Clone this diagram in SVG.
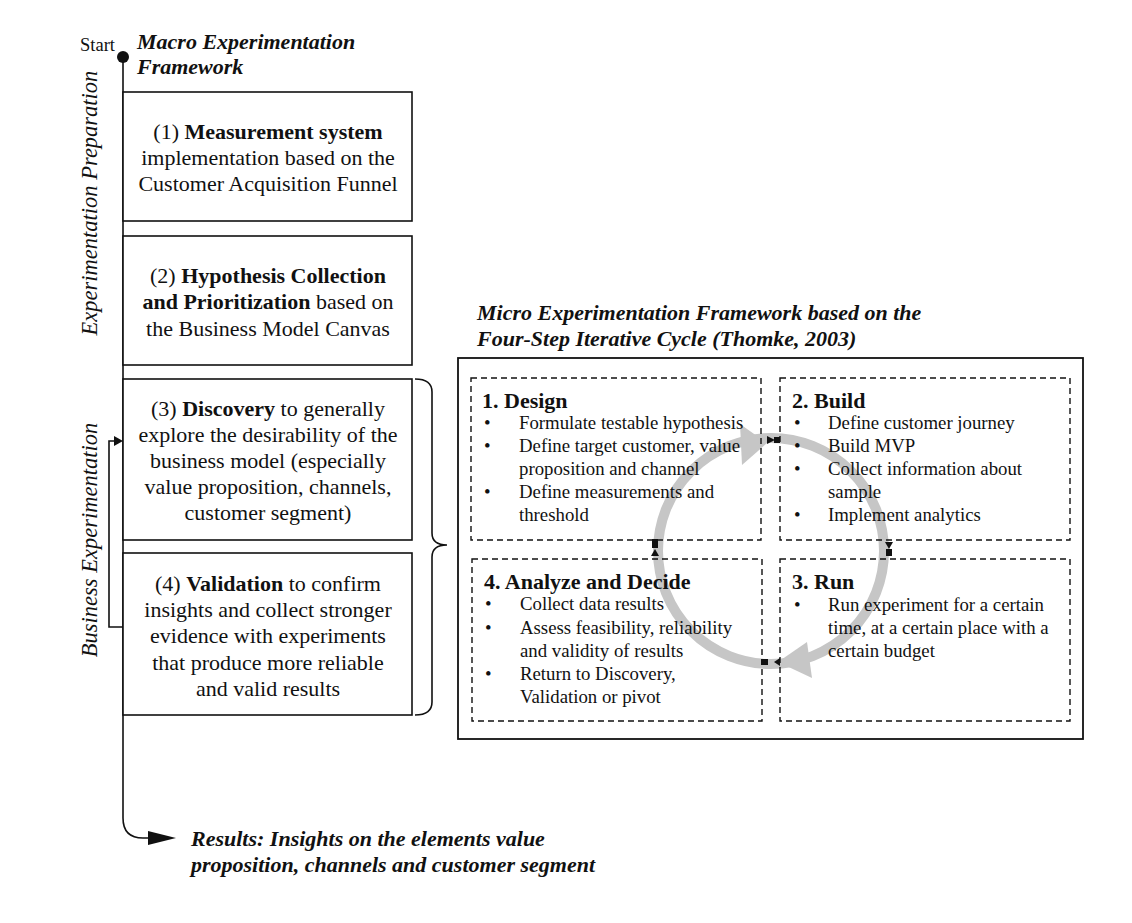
<svg xmlns="http://www.w3.org/2000/svg" width="1132" height="923" viewBox="0 0 1132 923">
<style>
text{font-family:"Liberation Serif","Times New Roman",serif;fill:#111}
.bx{fill:#fff;stroke:#111;stroke-width:1.6}
.dash{fill:none;stroke:#111;stroke-width:1.4;stroke-dasharray:6,4}
.ln{fill:none;stroke:#111;stroke-width:1.6}
.t{font-size:22px;text-anchor:middle}
.m{font-size:18.8px}
.h{font-size:22px;font-weight:bold}
.bi{font-size:22px;font-weight:bold;font-style:italic}
.vi{font-size:22.5px;font-style:italic;text-anchor:middle}
.blk{fill:#111}
.gray{fill:#c6c6c6}
</style>
<rect width="1132" height="923" fill="#fff"/>
<g id="connectors">
<path class="ln" d="M123,57 V818 Q123,838 143,838 H150"/>
<polygon class="blk" points="148,831 176,838 148,845"/>
<path class="ln" d="M123,627 H109 V441 H117"/>
<polygon class="blk" points="114,436 123,441 114,446"/>
<path class="ln" d="M415,379 Q432,379 432,392 V533 Q432,545 447,545 Q432,545 432,557 V702 Q432,715 415,715"/>
</g>
<g id="start">
<circle cx="123" cy="57" r="6" class="blk"/>
<text x="80" y="51" style="font-size:18.5px">Start</text>
</g>
<g id="macro-title">
<text class="bi" x="137" y="49">Macro Experimentation</text>
<text class="bi" x="137" y="74">Framework</text>
</g>
<g id="label-prep">
<text class="vi" transform="translate(97,203) rotate(-90)">Experimentation Preparation</text>
</g>
<g id="label-business">
<text class="vi" transform="translate(97,540) rotate(-90)">Business Experimentation</text>
</g>
<g id="box1">
<rect class="bx" x="123" y="92" width="289" height="129"/>
<text class="t" x="268" y="139">(1) <tspan font-weight="bold">Measurement system</tspan></text>
<text class="t" x="268" y="165">implementation based on the</text>
<text class="t" x="268" y="191">Customer Acquisition Funnel</text>
</g>
<g id="box2">
<rect class="bx" x="123" y="236" width="289" height="129"/>
<text class="t" x="268" y="283">(2) <tspan font-weight="bold">Hypothesis Collection</tspan></text>
<text class="t" x="268" y="309"><tspan font-weight="bold">and Prioritization</tspan> based on</text>
<text class="t" x="268" y="336">the Business Model Canvas</text>
</g>
<g id="box3">
<rect class="bx" x="123" y="379" width="289" height="161"/>
<text class="t" x="268" y="416">(3) <tspan font-weight="bold">Discovery</tspan> to generally</text>
<text class="t" x="268" y="442">explore the desirability of the</text>
<text class="t" x="268" y="468">business model (especially</text>
<text class="t" x="268" y="494">value proposition, channels,</text>
<text class="t" x="268" y="520">customer segment)</text>
</g>
<g id="box4">
<rect class="bx" x="123" y="553" width="289" height="162"/>
<text class="t" x="268" y="591">(4) <tspan font-weight="bold">Validation</tspan> to confirm</text>
<text class="t" x="268" y="617">insights and collect stronger</text>
<text class="t" x="268" y="643">evidence with experiments</text>
<text class="t" x="268" y="670">that produce more reliable</text>
<text class="t" x="268" y="696">and valid results</text>
</g>
<g id="micro-title">
<text class="bi" x="477" y="320">Micro Experimentation Framework based on the</text>
<text class="bi" x="477" y="346">Four-Step Iterative Cycle (Thomke, 2003)</text>
</g>
<g id="micro-frame">
<rect class="bx" x="458" y="358" width="625" height="381" style="stroke-width:1.8"/>
</g>
<g id="cycle">
<circle cx="771" cy="551" r="113" fill="none" stroke="#c6c6c6" stroke-width="10"/>
<polygon class="gray" points="740,424 767,443 742,465"/>
<polygon class="gray" points="807,642 778,662 812,678"/>
<polygon class="blk" points="767,436 775,440 767,444"/>
<rect class="blk" x="774" y="437" width="6" height="6"/>
<polygon class="blk" points="885,542 893,542 889,549"/>
<rect class="blk" x="886" y="549" width="6" height="7"/>
<rect class="blk" x="761" y="659" width="7" height="6"/>
<polygon class="blk" points="780,658 774,662 780,666"/>
<rect class="blk" x="652" y="539" width="6" height="9"/>
<polygon class="blk" points="651,556 655,549 659,556"/>
</g>
<g id="step1">
<rect class="dash" x="471" y="378" width="290" height="162"/>
<text class="h" x="482" y="408">1. Design</text>
<text class="m" x="484" y="429">•</text><text class="m" x="519" y="429">Formulate testable hypothesis</text>
<text class="m" x="484" y="452">•</text><text class="m" x="519" y="452">Define target customer, value</text>
<text class="m" x="519" y="475">proposition and channel</text>
<text class="m" x="484" y="498">•</text><text class="m" x="519" y="498">Define measurements and</text>
<text class="m" x="519" y="521">threshold</text>
</g>
<g id="step2">
<rect class="dash" x="780" y="378" width="290" height="162"/>
<text class="h" x="792" y="408">2. Build</text>
<text class="m" x="794" y="429">•</text><text class="m" x="828" y="429">Define customer journey</text>
<text class="m" x="794" y="452">•</text><text class="m" x="828" y="452">Build MVP</text>
<text class="m" x="794" y="475">•</text><text class="m" x="828" y="475">Collect information about</text>
<text class="m" x="828" y="498">sample</text>
<text class="m" x="794" y="521">•</text><text class="m" x="828" y="521">Implement analytics</text>
</g>
<g id="step4">
<rect class="dash" x="472" y="559" width="290" height="162"/>
<text class="h" x="484" y="589">4. Analyze and Decide</text>
<text class="m" x="485" y="610">•</text><text class="m" x="520" y="610">Collect data results</text>
<text class="m" x="485" y="634">•</text><text class="m" x="520" y="634">Assess feasibility, reliability</text>
<text class="m" x="520" y="657">and validity of results</text>
<text class="m" x="485" y="680">•</text><text class="m" x="520" y="680">Return to Discovery,</text>
<text class="m" x="520" y="703">Validation or pivot</text>
</g>
<g id="step3">
<rect class="dash" x="780" y="559" width="290" height="162"/>
<text class="h" x="792" y="589">3. Run</text>
<text class="m" x="794" y="611">•</text><text class="m" x="828" y="611">Run experiment for a certain</text>
<text class="m" x="828" y="634">time, at a certain place with a</text>
<text class="m" x="828" y="657">certain budget</text>
</g>
<g id="results">
<text class="bi" x="191" y="846">Results: Insights on the elements value</text>
<text class="bi" x="191" y="872">proposition, channels and customer segment</text>
</g>
</svg>
